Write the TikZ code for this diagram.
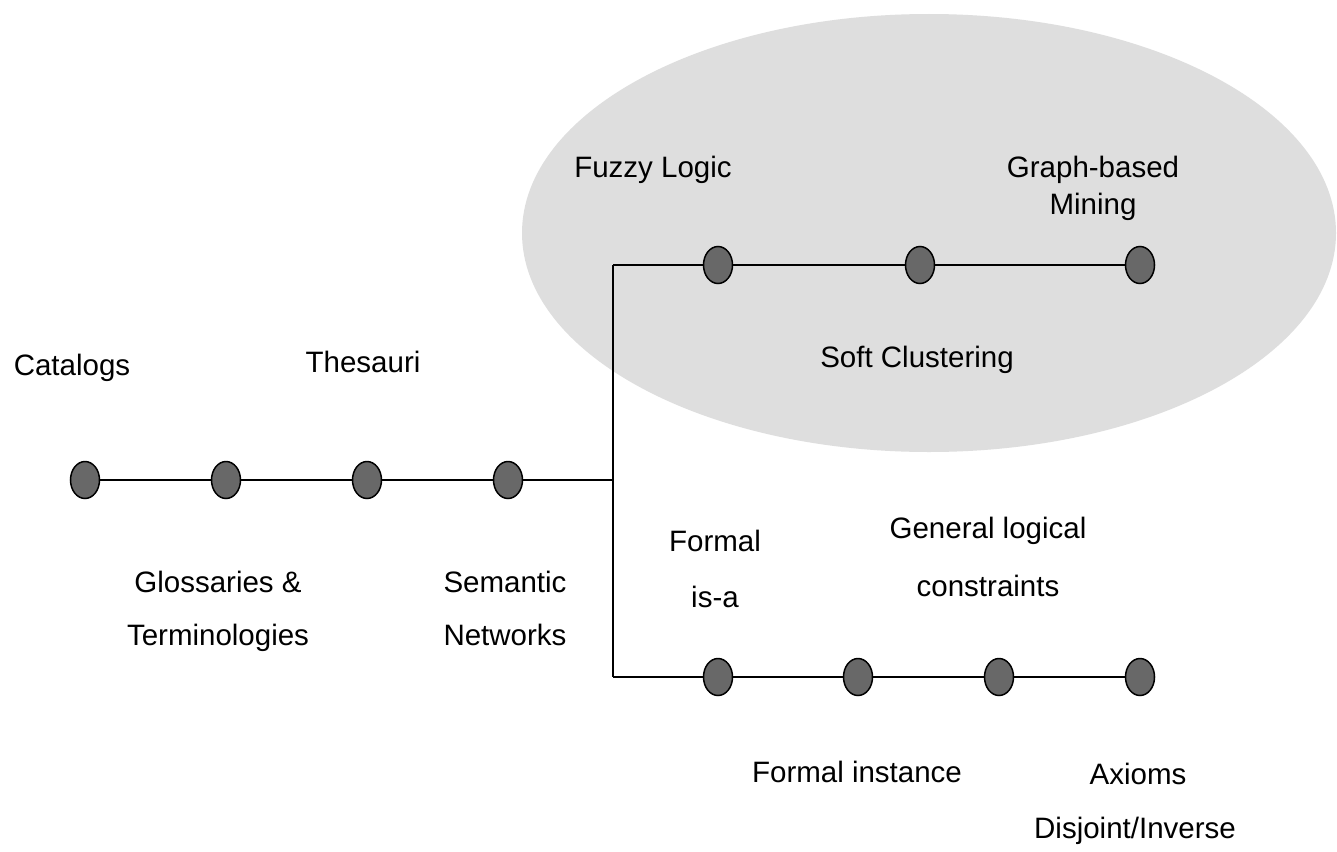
\documentclass[tikz,border=0pt]{standalone}
\usepackage{fontspec}
\setmainfont{Liberation Sans}
\usetikzlibrary{shapes.geometric}
\definecolor{cloudgray}{RGB}{222,222,222}
\definecolor{dotgray}{RGB}{104,104,104}
\tikzset{
  dotnode/.style={ellipse, draw=black, line width=1.5pt, fill=dotgray,
    minimum width=29pt, minimum height=37pt, inner sep=0pt},
  lbl/.style={anchor=base, inner sep=0pt, font=\fontsize{29.5}{35}\selectfont, text=black},
  link/.style={draw=black, line width=1.5pt}
}
\begin{document}
\begin{tikzpicture}[x=1pt,y=-1pt]
\useasboundingbox (0,0) rectangle (1337,851);
\fill[white] (0,0) rectangle (1337,851);
% gray cloud
\fill[cloudgray] (929,233) ellipse [x radius=407, y radius=219];

% nodes
\node[dotnode] (c1) at (85,480) {};
\node[dotnode] (c2) at (226,480) {};
\node[dotnode] (c3) at (367,480) {};
\node[dotnode] (c4) at (508,480) {};
\node[dotnode] (u1) at (718,265) {};
\node[dotnode] (u2) at (920,265) {};
\node[dotnode] (u3) at (1140,265) {};
\node[dotnode] (d1) at (718,677) {};
\node[dotnode] (d2) at (858,677) {};
\node[dotnode] (d3) at (999,677) {};
\node[dotnode] (d4) at (1140,677) {};
\coordinate (jm) at (613,480);
\coordinate (jt) at (613,265);
\coordinate (jb) at (613,677);

% connectors
\draw[link] (c1) -- (c2);
\draw[link] (c2) -- (c3);
\draw[link] (c3) -- (c4);
\draw[link] (c4) -- (jm);
\draw[link] (jt) -- (jb);
\draw[link] (jt) -- (u1);
\draw[link] (u1) -- (u2);
\draw[link] (u2) -- (u3);
\draw[link] (jb) -- (d1);
\draw[link] (d1) -- (d2);
\draw[link] (d2) -- (d3);
\draw[link] (d3) -- (d4);

% labels
\node[lbl] (tcat) at (72,375) {Catalogs};
\node[lbl] (tthe) at (363,372) {Thesauri};
\node[lbl] (tglo) at (218,592) {Glossaries \&};
\node[lbl] (tter) at (218,645) {Terminologies};
\node[lbl] (tsem) at (505,592) {Semantic};
\node[lbl] (tnet) at (505,645) {Networks};
\node[lbl] (tfuz) at (653,177) {Fuzzy Logic};
\node[lbl] (tgra) at (1093,177) {Graph-based};
\node[lbl] (tmin) at (1093,214) {Mining};
\node[lbl] (tsof) at (917,367) {Soft Clustering};
\node[lbl] (tfor) at (715,551) {Formal};
\node[lbl] (tisa) at (715,607) {is-a};
\node[lbl] (tgen) at (988,538) {General logical};
\node[lbl] (tcon) at (988,596) {constraints};
\node[lbl] (tins) at (857,782) {Formal instance};
\node[lbl] (tax) at (1138,784) {Axioms};
\node[lbl] (tdis) at (1135,838) {Disjoint/Inverse};
\end{tikzpicture}
\end{document}
